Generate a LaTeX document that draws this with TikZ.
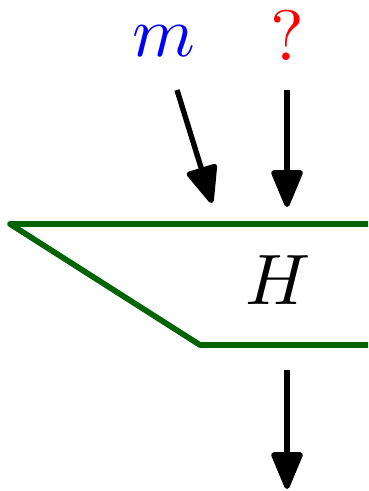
\documentclass[tikz,border=0pt]{standalone}
\usetikzlibrary{arrows.meta}
\definecolor{dgreen}{RGB}{0,100,0}
\begin{document}
\begin{tikzpicture}[x=0.14pt,y=-0.14pt,
  arr/.style={line width=0.75pt,-{Triangle[length=5.8pt,width=4.6pt,round]}},
  shapeline/.style={line width=0.8pt,draw=dgreen,line join=round}]
\useasboundingbox (0,0) rectangle (368,491);
\node[anchor=base,text=blue,inner sep=0] (m) at (164,57) {$m$};
\node[anchor=base,text=red,inner sep=0] (q) at (287,61) {?};
\coordinate (ms) at (177,90);
\coordinate (me) at (212,203);
\coordinate (qs) at (287,90);
\coordinate (qe) at (287,207);
\coordinate (tl) at (10,224);
\coordinate (tr) at (368,224);
\coordinate (bl) at (200,345);
\coordinate (br) at (368,345);
\draw[shapeline] (tr) -- (tl) -- (bl) -- (br);
\node[anchor=base,inner sep=0] (H) at (278,305) {$H$};
\coordinate (os) at (287,370);
\coordinate (oe) at (287,489);
\draw[arr] (ms) -- (me);
\draw[arr] (qs) -- (qe);
\draw[arr] (os) -- (oe);
\end{tikzpicture}
\end{document}
